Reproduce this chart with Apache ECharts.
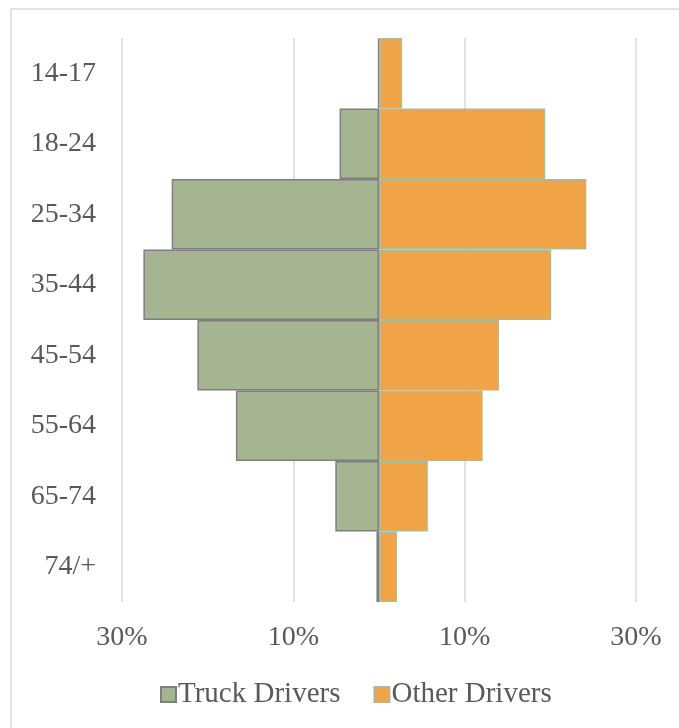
<!DOCTYPE html>
<html>
<head>
<meta charset="utf-8">
<script src="https://cdn.jsdelivr.net/npm/echarts@6/dist/echarts.min.js"></script>
<style>
  html, body { margin: 0; padding: 0; background: #ffffff; }
  #chart { width: 679px; height: 728px; }
</style>
</head>
<body>
<div id="chart"></div>
<script>
// Age groups, top to bottom
const ageGroups = ['14-17', '18-24', '25-34', '35-44', '45-54', '55-64', '65-74', '74/+'];
// Share of each group, in percent
const truckDrivers = [0.1, 4.6, 24.2, 27.5, 21.2, 16.7, 5.1, 0.3];
const otherDrivers = [2.7, 19.4, 24.2, 20.1, 14.0, 12.1, 5.7, 2.1];
// Axis range and tick step, in percent
const axisMin = -30;
const axisMax = 30;
const axisStep = 20;

const FONT = '"Liberation Serif", "Times New Roman", serif';
const TEXT = '#595959';

const chart = echarts.init(document.getElementById('chart'), null, { renderer: 'canvas' });

chart.setOption({
  backgroundColor: '#ffffff',
  animation: false,
  graphic: [{
    type: 'rect',
    shape: { x: 11, y: 9, width: 700, height: 760 },
    style: { fill: 'none', stroke: '#d9d9d9', lineWidth: 1.5 },
    silent: true,
    z: -1
  }],
  grid: { left: 122, right: 43, top: 38, bottom: 126, containLabel: false },
  legend: {
    data: ['Truck Drivers', 'Other Drivers'],
    left: 155,
    top: 675,
    icon: 'rect',
    itemWidth: 15,
    itemHeight: 15,
    itemGap: 33,
    textStyle: { fontFamily: FONT, fontSize: 29, color: TEXT, padding: [0, 0, 0, -3] }
  },
  xAxis: {
    type: 'value',
    min: axisMin,
    max: axisMax,
    interval: axisStep,
    axisLine: { show: false },
    axisTick: { show: false },
    splitLine: { show: true, lineStyle: { color: '#d9d9d9', width: 1.5 } },
    axisLabel: {
      margin: 22,
      fontFamily: FONT,
      fontSize: 28,
      color: TEXT,
      formatter: v => Math.abs(v) + '%'
    }
  },
  yAxis: {
    type: 'category',
    data: ageGroups,
    inverse: true,
    axisLine: { show: false },
    axisTick: { show: false },
    splitLine: { show: false },
    axisLabel: { margin: 26, fontFamily: FONT, fontSize: 28, color: TEXT }
  },
  series: [
    {
      name: 'Truck Drivers',
      type: 'bar',
      stack: 'pyramid',
      barWidth: '100%',
      barCategoryGap: 0,
      data: truckDrivers.map(v => -v),
      itemStyle: { color: '#a5b592', borderColor: '#7f7f7f', borderWidth: 1.5 }
    },
    {
      name: 'Other Drivers',
      type: 'bar',
      stack: 'pyramid',
      barWidth: '100%',
      barCategoryGap: 0,
      data: otherDrivers,
      itemStyle: { color: '#f0a447', borderColor: '#a9bb98', borderWidth: 1.5 }
    }
  ]
});
</script>
</body>
</html>
